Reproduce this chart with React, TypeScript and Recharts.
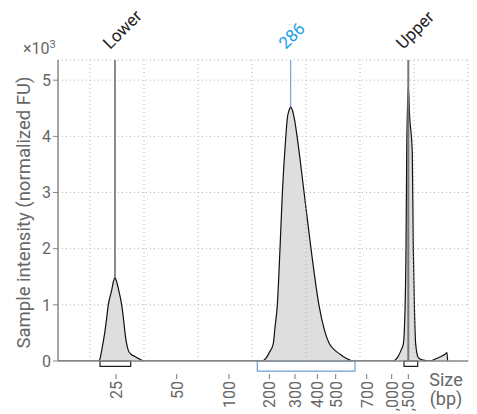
import React from 'react';
import {
  ComposedChart,
  Area,
  XAxis,
  YAxis,
  CartesianGrid,
  ReferenceLine,
  ReferenceArea,
  ReferenceDot,
} from 'recharts';

// migration position (arbitrary units along the run) and intensity (FU)
const positions = [
  0, 41, 42, 43.7, 46.7, 48, 50.3, 53.7, 55.5, 57, 58.5, 60.7, 63.7, 66, 67, 70.3, 73, 77, 82, 87,
  204, 208, 211, 215.3, 217, 219.3, 222, 224.3, 227.7, 229.3, 231, 232.7, 234.5, 236.3, 239.3, 246.3,
  253, 261, 266, 271.3, 277, 282, 288, 295,
  335, 339, 343.7, 345.3, 347, 348, 348.7, 349.5, 350.3, 351.5, 354.3, 355.3, 356.5, 357.7, 360.3,
  364, 372, 378, 383, 387, 389, 389.6,
];
const intensity = [
  0, 0, 40, 190, 500, 670, 1000, 1260, 1420, 1480, 1420, 1260, 1000, 670, 500, 190, 120, 80, 30, 0,
  0, 50, 140, 310, 600, 990, 2000, 2970, 3970, 4320, 4460, 4520, 4460, 4320, 3970, 2970,
  2000, 990, 580, 310, 190, 120, 50, 0,
  0, 50, 220, 300, 900, 2000, 3700, 4500, 4880, 4400, 3700, 2000, 900, 300, 60,
  20, 0, 40, 80, 120, 150, 0,
];

const sizeLabels = ['25', '50', '100', '200', '300', '400', '500', '700', '1,000', '1,500'];
const sizePositions = [58, 118.7, 171, 211.3, 237, 259.3, 277.7, 308.7, 333.7, 350.3];
const gridPositions = [32, 86, 140, 194, 248, 302, 356, 410];
const yTicks = [0, 1000, 2000, 3000, 4000, 5000];

const markers = [
  { name: 'Lower', pos: 57, peak: 1480, color: '#666', text: '#222', width: 1.5 },
  { name: '286', pos: 232.7, peak: 4520, color: '#5b8fd1', text: '#1aa0e6', width: 1 },
  { name: 'Upper', pos: 350.3, peak: 0, color: '#777', text: '#222', width: 2 },
];

const regions = [
  { from: 42, to: 72.7, depth: -95, color: '#222' },
  { from: 199.3, to: 297, depth: -180, color: '#6a9fd8' },
  { from: 346, to: 359.7, depth: -95, color: '#222' },
];

const data = positions.map((p, i) => ({ pos: p, value: intensity[i] }));

const FONT = 'Roboto, sans-serif';
const TEXT = '#666';
const Y_MAX = 5360;
const C45 = Math.SQRT1_2;

const SizeTick = (props: any) => {
  const { x, y, payload } = props;
  const i = sizePositions.indexOf(payload.value);
  const ty = y + 20;
  return (
    <g>
      <line x1={x} x2={x} y1={y + 13} y2={y + 18} stroke="#777" />
      <text
        x={x}
        y={ty}
        dy={6}
        transform={`rotate(-90, ${x}, ${ty})`}
        textAnchor="end"
        fill={TEXT}
        fontSize={16}
        fontFamily={FONT}
      >
        {sizeLabels[i]}
      </text>
    </g>
  );
};

// rotated peak caption sitting above each marker line
const MarkerCaption = (props: any) => {
  const { cx, cy, name, color } = props;
  const x = cx - 5;
  const y = cy - 10;
  return (
    <text
      transform={`matrix(${C45} ${-C45} ${C45} ${C45} ${x} ${y})`}
      fill={color}
      fontSize={17}
      fontFamily={FONT}
    >
      {name}
    </text>
  );
};

const YTitle = (props: any) => {
  const { viewBox } = props;
  const cx = viewBox.x + 24;
  const cy = viewBox.y + viewBox.height / 2 + 2;
  return (
    <g>
      <text
        x={cx}
        y={cy}
        transform={`rotate(-90, ${cx}, ${cy})`}
        textAnchor="middle"
        dominantBaseline="central"
        fill={TEXT}
        fontSize={18.5}
        fontFamily={FONT}
      >
        Sample intensity (normalized FU)
      </text>
      <text x={viewBox.x + 23} y={viewBox.y - 6} fill={TEXT} fontSize={16} fontFamily={FONT}>
        ×10<tspan dy={-6} fontSize={11}>3</tspan>
      </text>
    </g>
  );
};

const XTitle = (props: any) => {
  const { viewBox } = props;
  const cx = viewBox.x + viewBox.width - 22;
  return (
    <text textAnchor="middle" fill={TEXT} fontSize={18} fontFamily={FONT}>
      <tspan x={cx} y={viewBox.y + 25}>Size</tspan>
      <tspan x={cx} y={viewBox.y + 44}>(bp)</tspan>
    </text>
  );
};

export default function App() {
  return (
    <div style={{ position: 'absolute', left: 0, top: 0, width: 477, height: 414, background: '#fff' }}>
      <ComposedChart
        width={477}
        height={414}
        data={data}
        margin={{ top: 60, right: 9, bottom: 0, left: 0 }}
      >
        <CartesianGrid vertical={false} strokeDasharray="1 3" stroke="#b5b5b5" />
        {gridPositions.map((g) => (
          <ReferenceLine key={g} x={g} stroke="#b5b5b5" strokeDasharray="1 3" />
        ))}
        <XAxis
          dataKey="pos"
          type="number"
          domain={[0, 410]}
          ticks={sizePositions}
          interval={0}
          height={53}
          tickSize={0}
          tickMargin={0}
          tick={<SizeTick />}
          axisLine={{ stroke: '#888', strokeWidth: 1.5 }}
          label={<XTitle />}
          allowDataOverflow
        />
        <YAxis
          type="number"
          domain={[0, Y_MAX]}
          ticks={yTicks}
          width={58}
          tickSize={5}
          tickMargin={2}
          tickFormatter={(v: number) => String(v / 1000)}
          tick={{ fill: TEXT, fontSize: 16, fontFamily: FONT }}
          tickLine={{ stroke: '#888' }}
          axisLine={{ stroke: '#888', strokeWidth: 1.5 }}
          label={<YTitle />}
          allowDataOverflow
        />
        <Area
          type="monotone"
          dataKey="value"
          stroke="#111"
          strokeWidth={1.2}
          fill="#dedede"
          fillOpacity={1}
          dot={false}
          activeDot={false}
          isAnimationActive={false}
        />
        {markers.map((m) => (
          <ReferenceLine
            key={m.name}
            segment={[{ x: m.pos, y: Y_MAX }, { x: m.pos, y: m.peak }]}
            stroke={m.color}
            strokeWidth={m.width}
          />
        ))}
        {markers.map((m) => (
          <ReferenceDot
            key={'lbl-' + m.name}
            x={m.pos}
            y={Y_MAX}
            ifOverflow="visible"
            shape={(p: any) => <MarkerCaption {...p} name={m.name} color={m.text} />}
          />
        ))}
        {regions.map((r) => (
          <ReferenceArea
            key={r.from}
            x1={r.from}
            x2={r.to}
            y1={r.depth}
            y2={0}
            ifOverflow="visible"
            fill="none"
            stroke={r.color}
            strokeWidth={1.2}
            fillOpacity={0}
          />
        ))}
      </ComposedChart>
    </div>
  );
}
